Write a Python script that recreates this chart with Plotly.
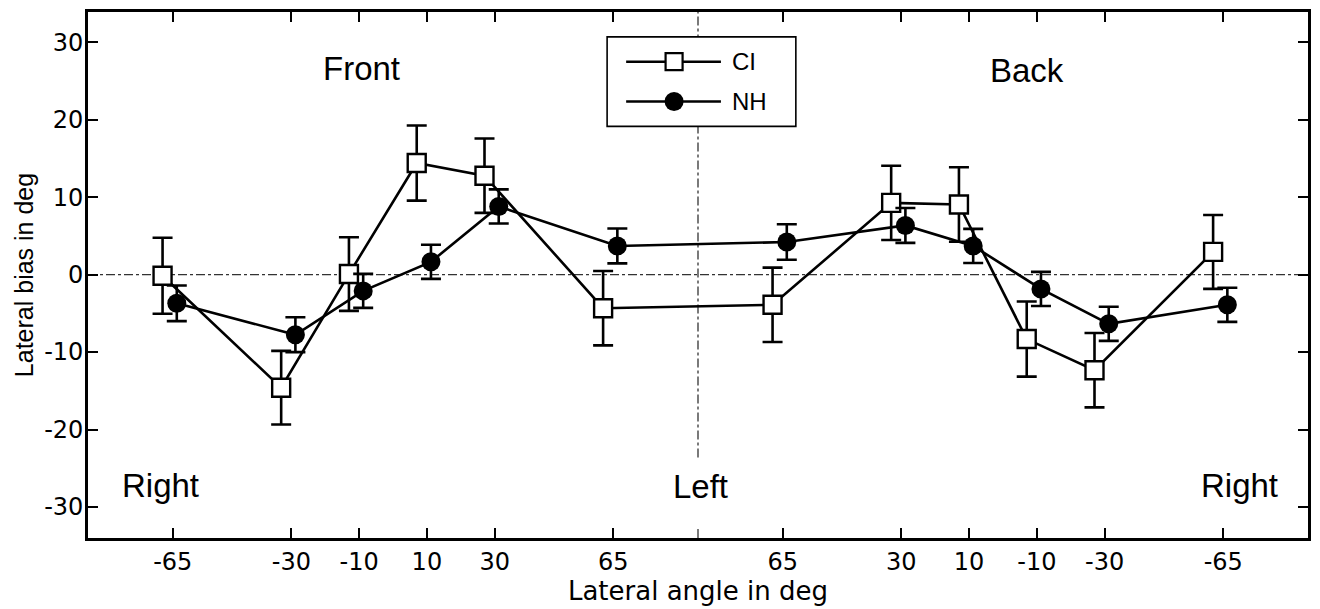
import plotly.graph_objects as go

# ---------------- data ----------------
front_angles = [-65, -30, -10, 10, 30, 65]
back_angles = [65, 30, 10, -10, -30, -65]
tick_labels = [str(a) for a in front_angles] + [str(a) for a in back_angles]
y_ticks = [-30, -20, -10, 0, 10, 20, 30]
y_tick_labels = [str(v) for v in y_ticks]

ci_bias = [-0.15, -14.6, 0.07, 14.4, 12.77, -4.34, -3.9, 9.26, 9.05, -8.32, -12.34, 2.93]
ci_err = [4.9, 4.75, 4.75, 4.85, 4.8, 4.8, 4.8, 4.8, 4.8, 4.85, 4.8, 4.77]
nh_bias = [-3.7, -7.76, -2.1, 1.65, 8.8, 3.7, 4.21, 6.35, 3.7, -1.85, -6.35, -3.9]
nh_err = [2.3, 2.25, 2.2, 2.2, 2.2, 2.25, 2.3, 2.25, 2.2, 2.2, 2.2, 2.2]

# unrolled position: front angle as is, back mirrored about 90 deg
positions = front_angles + [180 - a for a in back_angles]
ci_x = [p - 3.0 for p in positions]
nh_x = [p + 1.2 for p in positions]

FONT = "Liberation Sans, Arial, sans-serif"
WIDE = "DejaVu Sans, sans-serif"
LW = 2.6

fig = go.Figure()

fig.add_trace(go.Scatter(
    x=ci_x, y=ci_bias, name="CI", mode="lines+markers",
    line=dict(color="black", width=LW),
    marker=dict(symbol="square", size=18, color="white", line=dict(color="black", width=2.4)),
    error_y=dict(type="data", array=ci_err, visible=True, color="black", thickness=2.6, width=10),
    showlegend=False,
))
fig.add_trace(go.Scatter(
    x=nh_x, y=nh_bias, name="NH", mode="lines+markers",
    line=dict(color="black", width=LW),
    marker=dict(symbol="circle", size=19, color="black", line=dict(color="black", width=0)),
    error_y=dict(type="data", array=nh_err, visible=True, color="black", thickness=2.6, width=10),
    showlegend=False,
))

# reference lines (dash-dot)
ref = dict(color="#333333", width=1.3, dash="dashdot")
fig.add_shape(type="line", xref="paper", yref="y", x0=0, x1=1, y0=0, y1=0, line=ref, layer="below")
fig.add_shape(type="line", xref="x", yref="paper", x0=90, x1=90, y0=0.153, y1=1, line=ref, layer="below")
fig.add_shape(type="line", xref="x", yref="paper", x0=90, x1=90, y0=0, y1=0.02, line=ref, layer="below")

# region labels
big = dict(family=FONT, size=33, color="black")
labels = [("Front", 0.2245, 0.893), ("Back", 0.7700, 0.889),
          ("Right", 0.0597, 0.1), ("Left", 0.5020, 0.098), ("Right", 0.9435, 0.1)]
for txt, px, py in labels:
    fig.add_annotation(text=txt, xref="paper", yref="paper", x=px, y=py,
                       showarrow=False, font=big, xanchor="center", yanchor="middle")

# manual legend
lx0, lx1, ly0, ly1 = 0.4255, 0.5802, 0.7826, 0.9527
fig.add_shape(type="rect", xref="paper", yref="paper", x0=lx0, x1=lx1, y0=ly0, y1=ly1,
              line=dict(color="black", width=1.6), fillcolor="white")
rows = [("CI", 0.9055, "square"), ("NH", 0.8299, "circle")]
for name, ry, sym in rows:
    fig.add_shape(type="line", xref="paper", yref="paper", x0=0.4411, x1=0.5188, y0=ry, y1=ry,
                  line=dict(color="black", width=LW))
    if sym == "square":
        fig.add_shape(type="rect", xref="paper", yref="paper", xsizemode="pixel", ysizemode="pixel",
                      xanchor=0.4804, yanchor=ry, x0=-8.5, x1=8.5, y0=-8.5, y1=8.5,
                      line=dict(color="black", width=2.2), fillcolor="white")
    else:
        fig.add_shape(type="circle", xref="paper", yref="paper", xsizemode="pixel", ysizemode="pixel",
                      xanchor=0.4804, yanchor=ry, x0=-9.5, x1=9.5, y0=-9.5, y1=9.5,
                      line=dict(color="black", width=0), fillcolor="black")
    fig.add_annotation(text=name, xref="paper", yref="paper", x=0.5265, y=ry,
                       showarrow=False, font=dict(family=FONT, size=24, color="black"),
                       xanchor="left", yanchor="middle")

axis_common = dict(
    showline=True, linecolor="black", linewidth=2.6, mirror="ticks",
    ticks="inside", ticklen=10, tickwidth=2.2, tickcolor="black",
    showgrid=False, zeroline=False,
    tickfont=dict(family=WIDE, size=24, color="black"),
)

fig.update_layout(
    width=1320, height=609,
    margin=dict(l=88, r=10, t=9, b=71),
    paper_bgcolor="white", plot_bgcolor="white",
    xaxis=dict(range=[-90, 270], tickmode="array", tickvals=positions, ticktext=tick_labels,
               title=dict(text="Lateral angle in deg", font=dict(family=WIDE, size=26, color="black"), standoff=4),
               **axis_common),
    yaxis=dict(range=[-34, 33.9], tickmode="array", tickvals=y_ticks, ticktext=y_tick_labels,
               ticklabelstandoff=-3,
               title=dict(text="Lateral bias in deg", font=dict(family=FONT, size=25, color="black"), standoff=4),
               **axis_common),
)

fig.write_html("out.html")
